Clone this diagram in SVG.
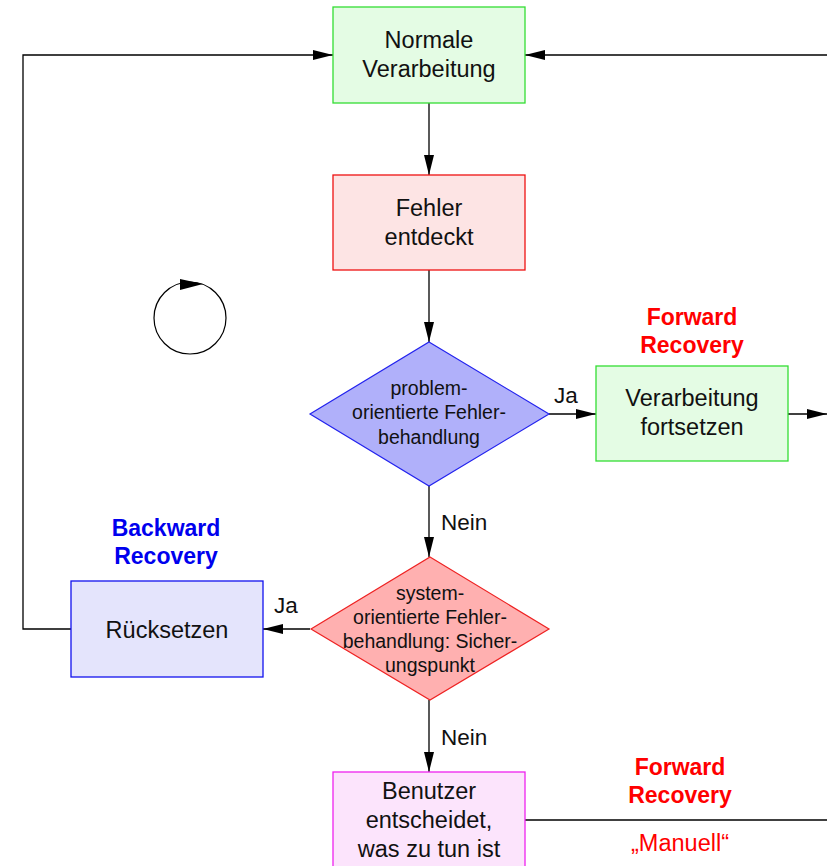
<svg xmlns="http://www.w3.org/2000/svg" width="827" height="866" viewBox="0 0 827 866">
<style>
text{font-family:"Liberation Sans",Arial,sans-serif;fill:#111;text-anchor:middle}
.t{font-size:23.5px}
.d{font-size:19.5px}
.lbl{font-size:22.5px;text-anchor:start}
.fr{font-size:23px;font-weight:bold;fill:#ff0000}
.br{font-size:23px;font-weight:bold;fill:#0000ee}
.ln{fill:none;stroke:#000;stroke-width:1.3}
</style>
<defs>
<marker id="ah" viewBox="0 0 20 10" refX="20" refY="5" markerWidth="20" markerHeight="10" markerUnits="userSpaceOnUse" orient="auto">
<path d="M0,0 L20,5 L0,10 Z" fill="#000"/>
</marker>
</defs>
<rect width="827" height="866" fill="#fff"/>
<g id="connectors">
<path class="ln" d="M827,55 H525" marker-end="url(#ah)"/>
<path class="ln" d="M429,103 V175" marker-end="url(#ah)"/>
<path class="ln" d="M429,270 V342" marker-end="url(#ah)"/>
<path class="ln" d="M549,414 H596" marker-end="url(#ah)"/>
<path class="ln" d="M788,414 H827" marker-end="url(#ah)"/>
<path class="ln" d="M429,486 V557" marker-end="url(#ah)"/>
<path class="ln" d="M310,629 H263" marker-end="url(#ah)"/>
<path class="ln" d="M71,629 H23 V55 H333" marker-end="url(#ah)"/>
<path class="ln" d="M429,700 V772" marker-end="url(#ah)"/>
<path class="ln" d="M525,820 H827"/>
<text class="lbl" x="554" y="403">Ja</text>
<text class="lbl" x="441" y="530">Nein</text>
<text class="lbl" x="274" y="613">Ja</text>
<text class="lbl" x="441" y="745">Nein</text>
</g>
<g id="cycle">
<circle cx="190" cy="318" r="36" fill="none" stroke="#000" stroke-width="1.2"/>
<path d="M180,279 L203,284 L180,290 Z" fill="#000"/>
</g>
<g id="normal">
<rect x="333" y="7" width="192" height="96" fill="#e4fce4" stroke="#33dd33" stroke-width="1.3"/>
<text class="t" x="429" y="48">Normale</text>
<text class="t" x="429" y="77">Verarbeitung</text>
</g>
<g id="fehler">
<rect x="333" y="175" width="192" height="95" fill="#fde4e4" stroke="#ee1111" stroke-width="1.3"/>
<text class="t" x="429" y="216">Fehler</text>
<text class="t" x="429" y="245">entdeckt</text>
</g>
<g id="problem">
<polygon points="429,342 549,414 429,486 310,414" fill="#b0b0fa" stroke="#2222ee" stroke-width="1.2"/>
<text class="d" x="429" y="395">problem-</text>
<text class="d" x="429" y="419">orientierte Fehler-</text>
<text class="d" x="429" y="444">behandlung</text>
</g>
<g id="fortsetzen">
<text class="fr" x="692" y="325">Forward</text>
<text class="fr" x="692" y="353">Recovery</text>
<rect x="596" y="366" width="192" height="95" fill="#e4fce4" stroke="#33dd33" stroke-width="1.3"/>
<text class="t" x="692" y="406">Verarbeitung</text>
<text class="t" x="692" y="435">fortsetzen</text>
</g>
<g id="system">
<polygon points="430,557 549,629 430,700 311,629" fill="#ffb0b0" stroke="#ee2222" stroke-width="1.2"/>
<text class="d" x="430" y="600">system-</text>
<text class="d" x="430" y="624">orientierte Fehler-</text>
<text class="d" x="430" y="648">behandlung: Sicher-</text>
<text class="d" x="430" y="672">ungspunkt</text>
</g>
<g id="ruecksetzen">
<text class="br" x="166" y="536">Backward</text>
<text class="br" x="166" y="564">Recovery</text>
<rect x="71" y="581" width="192" height="96" fill="#e4e4fc" stroke="#1111ee" stroke-width="1.3"/>
<text class="t" x="167" y="638">Rücksetzen</text>
</g>
<g id="benutzer">
<rect x="333" y="772" width="192" height="100" fill="#fce4fc" stroke="#ee22ee" stroke-width="1.3"/>
<text class="t" x="429" y="799">Benutzer</text>
<text class="t" x="429" y="828">entscheidet,</text>
<text class="t" x="429" y="857">was zu tun ist</text>
</g>
<g id="manuell">
<text class="fr" x="680" y="775">Forward</text>
<text class="fr" x="680" y="803">Recovery</text>
<text class="t" x="680" y="851" style="fill:#ff0000">„Manuell“</text>
</g>
</svg>
